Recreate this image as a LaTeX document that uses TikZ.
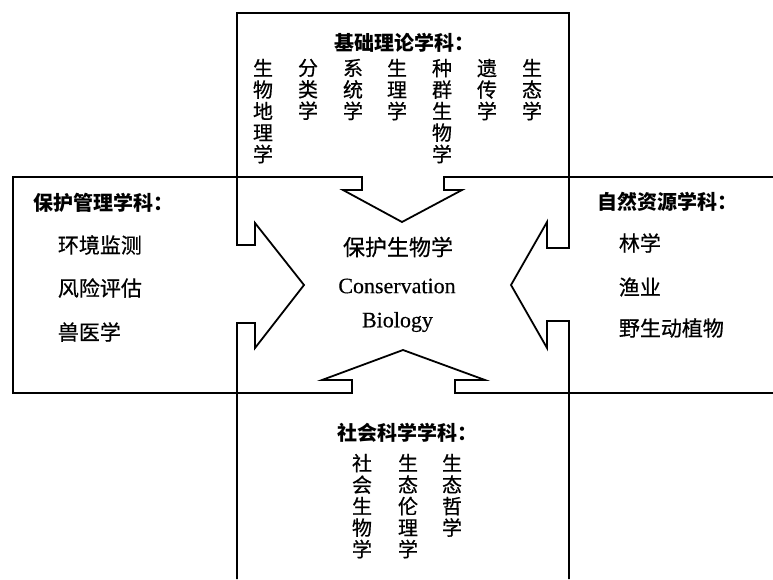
\documentclass[tikz,border=0pt]{standalone}
\usepackage{fontspec}
\setmainfont{Liberation Serif}
\newfontfamily\cjk{Noto Sans CJK SC}
\newfontfamily\cjkm[FakeBold=0.6]{Noto Sans CJK SC}
\newfontfamily\latm[FakeBold=0.4]{Liberation Serif}
\begin{document}
\begin{tikzpicture}[x=1pt,y=-1pt,line width=1.8pt,line join=miter,
  ttl/.style={font=\cjk\bfseries\fontsize{20}{24}\selectfont,inner sep=0pt},
  itm/.style={font=\cjkm\fontsize{21}{24}\selectfont,inner sep=0pt,anchor=west},
  col/.style={font=\cjkm\fontsize{20}{21.5}\selectfont,align=center,inner sep=0pt,anchor=north},
  lat/.style={font=\latm\fontsize{22}{24}\selectfont,inner sep=0pt}]
\useasboundingbox (0,0) rectangle (773,579);
% outlines
\draw (237,579) -- (237,323) -- (255,323) -- (255,348) -- (304,285) -- (255,223) -- (255,245) -- (237,245)
  -- (237,13) -- (569,13) -- (569,248) -- (547,248) -- (547,222) -- (511,285) -- (547,348) -- (547,321)
  -- (569,321) -- (569,579);
\draw (773,177) -- (444,177) -- (444,190) -- (462,190) -- (402,222) -- (343,190) -- (362,190) -- (362,177)
  -- (13,177) -- (13,393) -- (352,393) -- (352,380) -- (322,380) -- (403,350) -- (485,380) -- (455,380)
  -- (455,393) -- (773,393);
% top
\node[ttl] (tt) at (404.5,43) {基础理论学科：};
\node[col] (t1) at (263,58) {生\\物\\地\\理\\学};
\node[col] (t2) at (308,58) {分\\类\\学};
\node[col] (t3) at (353,58) {系\\统\\学};
\node[col] (t4) at (397,58) {生\\理\\学};
\node[col] (t5) at (442,58) {种\\群\\生\\物\\学};
\node[col] (t6) at (487,58) {遗\\传\\学};
\node[col] (t7) at (532,58) {生\\态\\学};
% left
\node[ttl,anchor=west] (lt) at (33,203) {保护管理学科：};
\node[itm] (l1) at (57,245) {环境监测};
\node[itm] (l2) at (57,288) {风险评估};
\node[itm] (l3) at (57,332) {兽医学};
% right
\node[ttl,anchor=west] (rt) at (597,202) {自然资源学科：};
\node[itm] (r1) at (618,243) {林学};
\node[itm] (r2) at (618,287) {渔业};
\node[itm] (r3) at (618,328) {野生动植物};
% center
\node[font=\cjkm\fontsize{22}{24}\selectfont,inner sep=0pt] (c1) at (398,247) {保护生物学};
\node[lat] (c2) at (397,286) {Conservation};
\node[lat] (c3) at (397.5,322) {Biology};
% bottom
\node[ttl] (bt) at (407.5,433) {社会科学学科：};
\node[col] (b1) at (362,453) {社\\会\\生\\物\\学};
\node[col] (b2) at (408,453) {生\\态\\伦\\理\\学};
\node[col] (b3) at (452,453) {生\\态\\哲\\学};
\end{tikzpicture}
\end{document}
